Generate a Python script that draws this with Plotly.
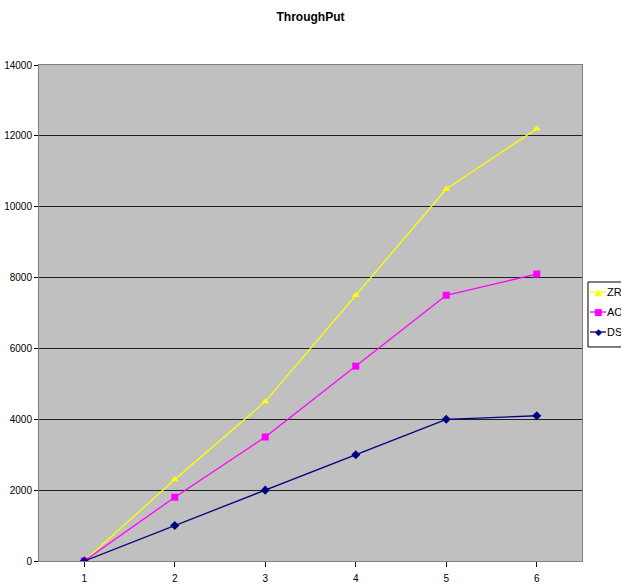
import plotly.graph_objects as go

# Throughput per scenario for three routing protocols
categories = ["1", "2", "3", "4", "5", "6"]
zrp = [0, 2300, 4500, 7500, 10500, 12200]
aodv = [0, 1800, 3500, 5500, 7500, 8100]
dsr = [0, 1000, 2000, 3000, 4000, 4100]
y_ticks = [0, 2000, 4000, 6000, 8000, 10000, 12000, 14000]

series = [
    ("ZRP", zrp, "#FFFF00", "triangle-up", "▲"),
    ("AODV", aodv, "#FF00FF", "square", "■"),
    ("DSR", dsr, "#000080", "diamond", "◆"),
]

fig = go.Figure()
for name, vals, color, sym, _ in series:
    fig.add_trace(go.Scatter(
        x=categories, y=vals, name=name, mode="lines+markers",
        line=dict(color=color, width=1.3),
        marker=dict(symbol=sym, size=7, color=color),
        showlegend=False,
    ))

# Legend box to the right of the plot area (paper coordinates)
fig.add_shape(type="rect", xref="paper", yref="paper",
              x0=1.0110, x1=1.2, y0=0.4315, y1=0.5625,
              line=dict(color="black", width=1), fillcolor="white")
entry_y = [0.5423, 0.502, 0.4617]
for (name, _, color, _, glyph), ey in zip(series, entry_y):
    fig.add_shape(type="line", xref="paper", yref="paper",
                  x0=1.0147, x1=1.0442, y0=ey, y1=ey,
                  line=dict(color=color, width=1.3))
    fig.add_annotation(xref="paper", yref="paper", x=1.0313, y=ey,
                       text=glyph, showarrow=False,
                       font=dict(color=color, size=9, family="DejaVu Sans"),
                       xanchor="center", yanchor="middle")
    fig.add_annotation(xref="paper", yref="paper", x=1.0460, y=ey,
                       text=name, showarrow=False,
                       font=dict(color="black", size=11),
                       xanchor="left", yanchor="middle",
                       xshift=-2)

fig.update_layout(
    width=621, height=586,
    margin=dict(l=39, r=39, t=65, b=25, autoexpand=False),
    paper_bgcolor="white", plot_bgcolor="#C0C0C0",
    font=dict(family="Liberation Sans, Arial", size=10, color="black"),
    title=dict(text="<b>ThroughPut</b>", x=0.5, xanchor="center",
               y=1 - 17 / 586, yanchor="middle", font=dict(size=12)),
    showlegend=False,
)
fig.update_xaxes(
    type="category", range=[-0.5, 5.5],
    showgrid=False, showline=True, linecolor="#808080", mirror=True,
    ticks="outside", ticklen=5, tickcolor="black",
    tickmode="array", tickvals=categories, ticktext=categories,
    ticklabelstandoff=3, zeroline=False,
)
fig.update_yaxes(
    range=[0, 14000], tickvals=y_ticks, ticktext=[str(v) for v in y_ticks],
    showgrid=True, gridcolor="#202020", gridwidth=1,
    showline=True, linecolor="#808080", mirror=True,
    ticks="outside", ticklen=4, tickcolor="black",
    zeroline=False,
)

fig.write_html("out.html")
